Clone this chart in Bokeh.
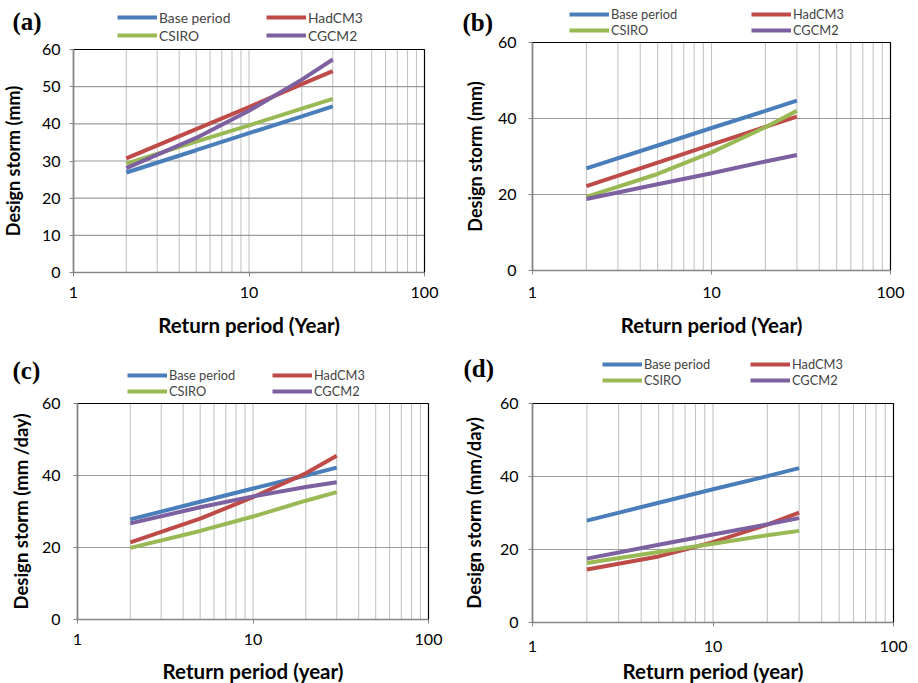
from bokeh.plotting import figure
from bokeh.models import (FixedTicker, Legend, LegendItem, Label, PrintfTickFormatter,
                          Range1d, LinearAxis, LogAxis)
from bokeh.layouts import column, row
from bokeh.embed import file_html
from bokeh.resources import INLINE

# ---------------- data ----------------
return_periods = [2, 5, 10, 20, 30]
series_names = ["Base period", "HadCM3", "CSIRO", "CGCM2"]

a_base = [26.9, 32.9, 37.5, 42.0, 44.7]
a_hadcm3 = [30.7, 38.6, 44.5, 50.7, 54.2]
a_csiro = [29.3, 35.2, 39.6, 44.1, 46.7]
a_cgcm2 = [28.1, 36.2, 43.5, 51.9, 57.3]

b_base = [26.9, 32.9, 37.5, 42.0, 44.7]
b_hadcm3 = [22.2, 28.4, 33.1, 37.8, 40.5]
b_csiro = [19.4, 25.4, 31.1, 37.7, 42.0]
b_cgcm2 = [18.8, 22.7, 25.6, 28.7, 30.4]

c_base = [27.8, 32.7, 36.4, 40.0, 42.2]
c_hadcm3 = [21.4, 28.0, 34.0, 40.6, 45.5]
c_csiro = [19.9, 24.6, 28.6, 33.0, 35.4]
c_cgcm2 = [26.7, 31.2, 34.2, 36.8, 38.1]

d_base = [27.9, 32.8, 36.5, 40.1, 42.3]
d_hadcm3 = [14.5, 18.1, 22.0, 26.8, 30.1]
d_csiro = [16.3, 19.3, 21.6, 23.9, 25.1]
d_cgcm2 = [17.5, 21.3, 24.1, 26.9, 28.6]

panel_letters = ["(a)", "(b)", "(c)", "(d)"]
x_titles = ["Return period (Year)", "Return period (Year)", "Return period (year)", "Return period (year)"]
y_titles = ["Design storm (mm)", "Design storm (mm)", "Design storm (mm /day)", "Design storm (mm/day)"]
y_ticks_a = [0, 10, 20, 30, 40, 50, 60]
y_ticks_other = [0, 20, 40, 60]
x_major_ticks = [1, 10, 100]
x_grid_ticks = [2, 3, 4, 5, 6, 7, 8, 9, 10, 20, 30, 40, 50, 60, 70, 80, 90]
x_lo, x_hi = 1, 100
y_lo, y_hi = 0, 60

colors = ["#4A7EBB", "#BE4B48", "#98B954", "#7D60A0"]
SANS = "Lato"
W = 459


def make_panel(letter, xt, yt, yticks, data, H, px_left, px_right, px_top, px_bot,
               xs, xls, ys, yls, yfont, xfont,
               leg_xy, row_h, lab_w, leg_font, letter_xy):
    # ranges chosen so that the plotting rectangle lands at the wanted pixels
    dec_per_px = 2.0 / (px_right - px_left)
    xr = Range1d(10 ** (-px_left * dec_per_px), 10 ** (2 + (W - px_right) * dec_per_px))
    u = (y_hi - y_lo) / (px_bot - px_top)
    yr = Range1d(y_lo - (H - px_bot) * u, y_hi + px_top * u)

    p = figure(width=W, height=H, x_axis_type="log", x_axis_location=None,
               y_axis_location=None, title_location=None, output_backend="svg",
               toolbar_location=None, x_range=xr, y_range=yr,
               min_border_left=0, min_border_right=0, min_border_top=0, min_border_bottom=0)
    p.center = []
    p.background_fill_color = "white"
    p.border_fill_color = "white"
    p.outline_line_color = None

    # grid lines, limited to the plotting rectangle
    n = len(x_grid_ticks)
    p.segment(x0=x_grid_ticks, y0=[y_lo] * n, x1=x_grid_ticks, y1=[y_hi] * n,
              line_color="#C4C4C4", line_width=1.1, level="underlay")
    ygl = [t for t in yticks if y_lo < t < y_hi]
    m = len(ygl)
    p.segment(x0=[x_lo] * m, y0=ygl, x1=[x_hi] * m, y1=ygl,
              line_color="#9C9C9C", line_width=1.1, level="underlay")
    p.quad(left=[x_lo], right=[x_hi], bottom=[y_lo], top=[y_hi], fill_color=None,
           line_color="black", line_width=1.2)

    xaxis = LogAxis(fixed_location=y_lo, bounds=(x_lo, x_hi),
                    ticker=FixedTicker(ticks=x_major_ticks),
                    formatter=PrintfTickFormatter(format="%d"))
    yaxis = LinearAxis(fixed_location=x_lo, bounds=(y_lo, y_hi),
                       ticker=FixedTicker(ticks=yticks))
    for ax in (xaxis, yaxis):
        ax.axis_line_color = "#868686"
        ax.axis_line_width = 1.5
        ax.major_tick_line_color = "#868686"
        ax.major_tick_out = 4
        ax.major_tick_in = 0
        ax.minor_tick_line_color = None
        ax.major_label_text_font = SANS
        ax.major_label_text_font_size = "16px"
        ax.major_label_text_color = "black"
        ax.axis_label_text_font = SANS
        ax.axis_label_text_font_style = "bold"
        ax.axis_label_text_color = "black"
    xaxis.axis_label = xt
    yaxis.axis_label = yt
    xaxis.axis_label_text_font_size = xfont
    yaxis.axis_label_text_font_size = yfont
    xaxis.major_label_standoff = xs
    xaxis.axis_label_standoff = xls
    yaxis.major_label_standoff = ys
    yaxis.axis_label_standoff = yls
    p.add_layout(xaxis, "below")
    p.add_layout(yaxis, "left")

    items = []
    for name, vals, c in zip(series_names, data, colors):
        r = p.line(return_periods, vals, line_color=c, line_width=4)
        items.append(LegendItem(label=name, renderers=[r]))

    leg = Legend(items=items, location=(leg_xy[0], H - leg_xy[1]), orientation="horizontal",
                 ncols=2, glyph_width=40, glyph_height=row_h, label_height=row_h,
                 label_width=lab_w, label_standoff=2, spacing=0, padding=0, margin=0,
                 label_text_font=SANS, label_text_font_size=leg_font,
                 border_line_color=None, background_fill_alpha=0)
    p.add_layout(leg, "center")

    p.add_layout(Label(x=letter_xy[0], y=H - letter_xy[1], x_units="screen", y_units="screen",
                       text=letter, text_font="Liberation Serif", text_font_style="bold",
                       text_font_size="25px", text_baseline="alphabetic", text_align="left",
                       text_color="black"))
    return p


pa = make_panel(panel_letters[0], x_titles[0], y_titles[0], y_ticks_a,
                [a_base, a_hadcm3, a_csiro, a_cgcm2],
                341, 73, 424, 49, 272, 10, 12, 9, 15, "18px", "20.5px",
                (117, 44), 18, 107, "13.8px", (12, 21))
pb = make_panel(panel_letters[1], x_titles[1], y_titles[1], y_ticks_other,
                [b_base, b_hadcm3, b_csiro, b_cgcm2],
                341, 73, 431, 42, 270, 12, 12, 12, 9, "18px", "20.5px",
                (110, 38), 16, 140, "12.8px", (3, 22))
pc = make_panel(panel_letters[2], x_titles[2], y_titles[2], y_ticks_other,
                [c_base, c_hadcm3, c_csiro, c_cgcm2],
                342, 77, 428, 62, 278, 10, 11, 13, 7, "18.5px", "20.5px",
                (127, 58), 16, 103, "12.8px", (12, 29))
pd = make_panel(panel_letters[3], x_titles[3], y_titles[3], y_ticks_other,
                [d_base, d_hadcm3, d_csiro, d_cgcm2],
                342, 73, 434, 62, 281, 14, 4, 10, 12, "18.5px", "20.5px",
                (143, 47), 16, 106, "12.8px", (4, 27))

layout = column(row(pa, pb), row(pc, pd))
open("out.html", "w").write(file_html(layout, INLINE))
